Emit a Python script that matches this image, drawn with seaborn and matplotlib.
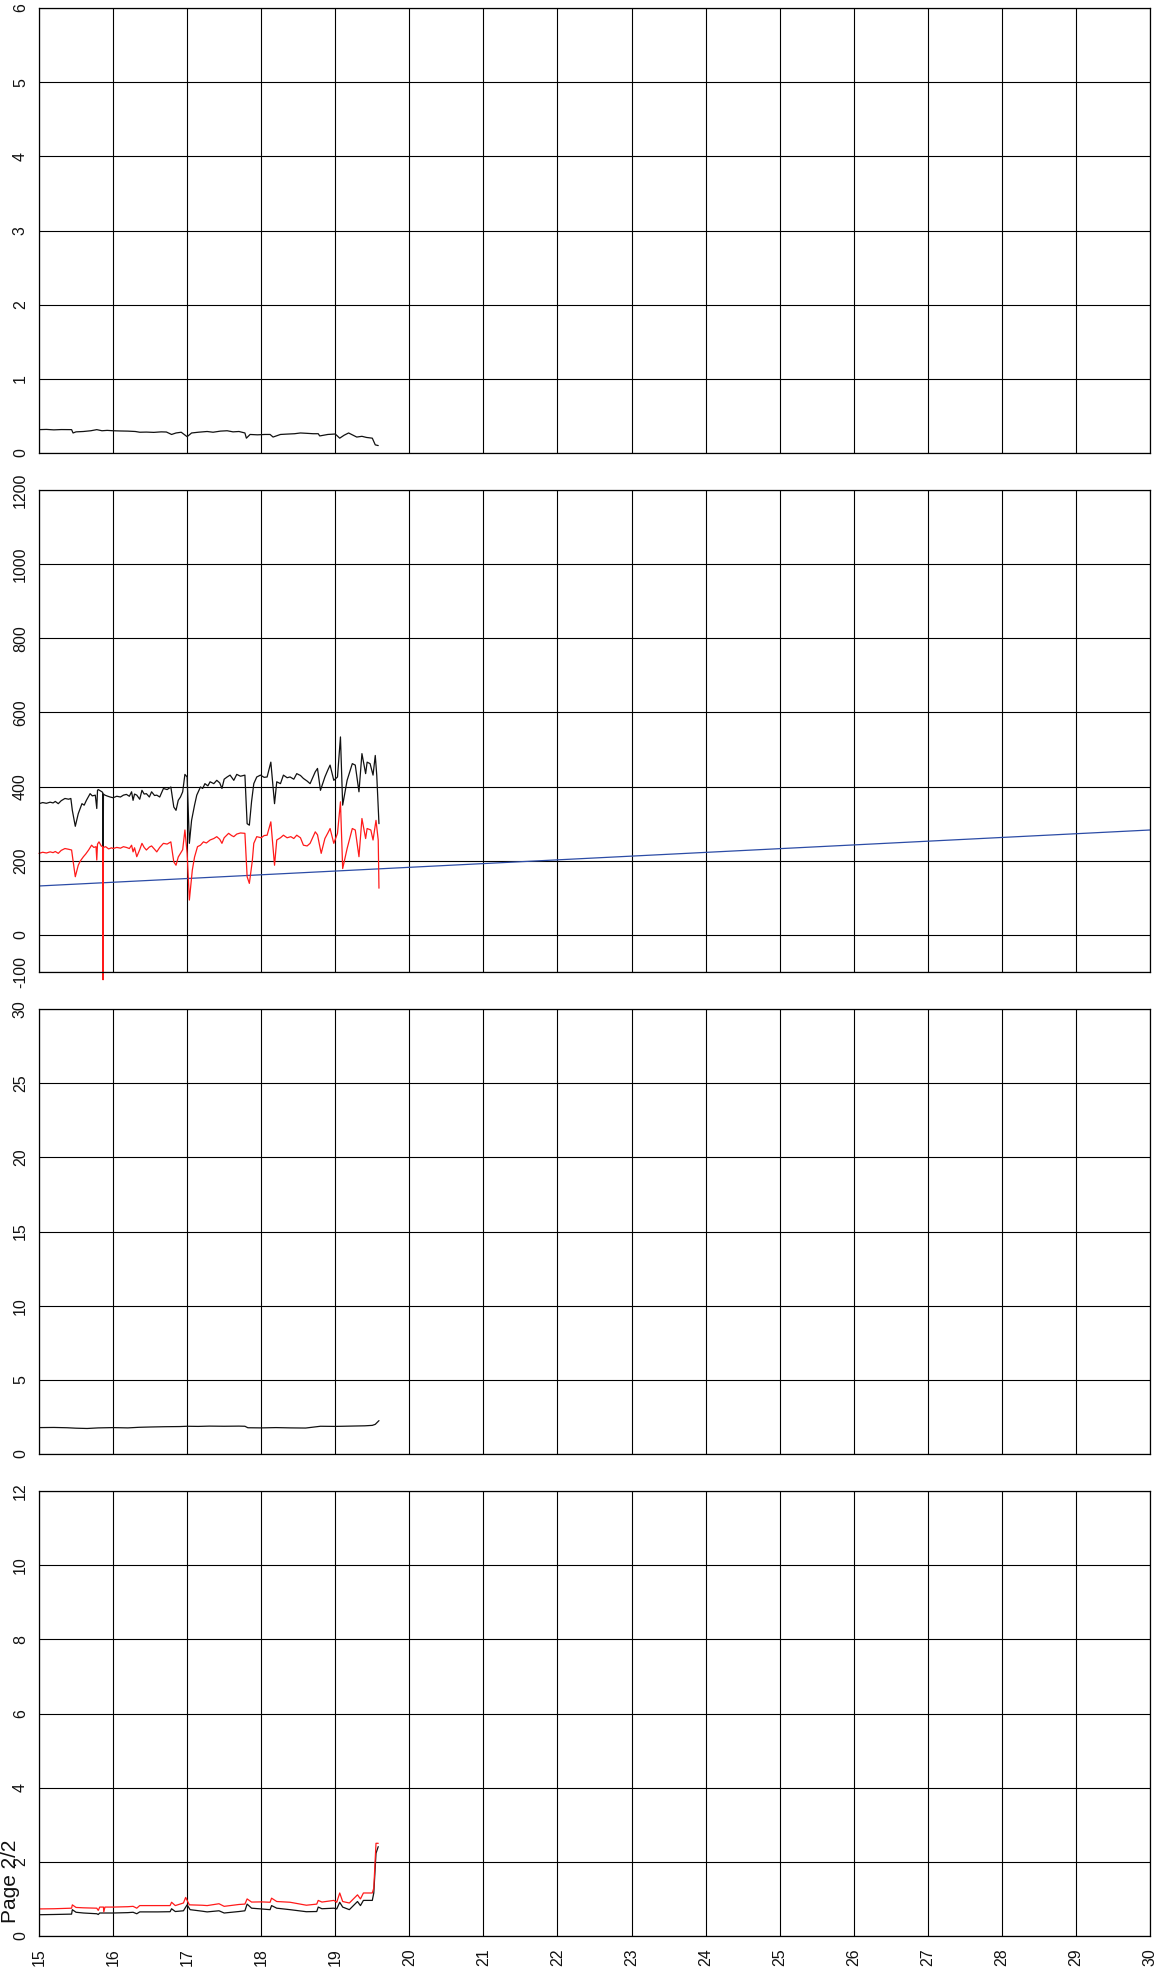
import matplotlib
matplotlib.use("Agg")
import matplotlib.pyplot as plt
import seaborn as sns
import pandas as pd

# ---------------- data ----------------
x_ticks = list(range(15, 31))

p1_x = [15.00, 15.10, 15.20, 15.30, 15.44, 15.46, 15.50, 15.60, 15.70, 15.78, 15.85, 15.92, 16.00, 16.10,
        16.20, 16.30, 16.36, 16.45, 16.55, 16.65, 16.72, 16.79, 16.85, 16.92, 17.00, 17.06, 17.15, 17.27,
        17.35, 17.45, 17.54, 17.62, 17.70, 17.78, 17.80, 17.85, 17.95, 18.05, 18.12, 18.16, 18.26, 18.35,
        18.45, 18.53, 18.62, 18.70, 18.77, 18.79, 18.90, 19.00, 19.06, 19.12, 19.18, 19.24, 19.29, 19.36,
        19.42, 19.50, 19.54, 19.58]
p1_y = [0.315, 0.318, 0.312, 0.316, 0.315, 0.27, 0.285, 0.29, 0.30, 0.315, 0.30, 0.305, 0.30, 0.297,
        0.295, 0.29, 0.28, 0.282, 0.278, 0.285, 0.283, 0.25, 0.27, 0.28, 0.22, 0.27, 0.28, 0.29,
        0.28, 0.295, 0.30, 0.285, 0.29, 0.27, 0.20, 0.25, 0.245, 0.25, 0.25, 0.215, 0.25, 0.255,
        0.26, 0.27, 0.265, 0.26, 0.26, 0.23, 0.25, 0.256, 0.20, 0.24, 0.27, 0.24, 0.215, 0.225,
        0.21, 0.20, 0.11, 0.10]
p1_yticks = [0, 1, 2, 3, 4, 5, 6]

p2_black_x = [15.00, 15.05, 15.10, 15.15, 15.19, 15.22, 15.26, 15.30, 15.35, 15.40, 15.43, 15.45, 15.49,
              15.53, 15.58, 15.61, 15.64, 15.69, 15.72, 15.76, 15.78, 15.79, 15.80, 15.85, 15.86, 15.865,
              15.87, 15.89, 15.93, 15.96, 16.00, 16.05, 16.10, 16.14, 16.18, 16.22, 16.25, 16.27, 16.29,
              16.32, 16.36, 16.39, 16.42, 16.45, 16.49, 16.52, 16.56, 16.59, 16.63, 16.68, 16.73, 16.78,
              16.82, 16.85, 16.88, 16.91, 16.94, 16.97, 17.00, 17.03, 17.06, 17.10, 17.13, 17.18, 17.21,
              17.24, 17.28, 17.31, 17.36, 17.40, 17.44, 17.47, 17.50, 17.54, 17.58, 17.63, 17.67, 17.72,
              17.78, 17.81, 17.84, 17.87, 17.90, 17.94, 17.99, 18.04, 18.08, 18.13, 18.18, 18.21, 18.26,
              18.30, 18.35, 18.39, 18.44, 18.48, 18.53, 18.57, 18.62, 18.66, 18.73, 18.76, 18.80, 18.86,
              18.90, 18.93, 18.98, 19.03, 19.07, 19.10, 19.16, 19.23, 19.27, 19.32, 19.36, 19.41, 19.43,
              19.47, 19.51, 19.54, 19.56, 19.59]
p2_black_y = [354, 357, 355, 358, 356, 360, 354, 362, 368, 366, 368, 336, 293,
              327, 354, 350, 363, 381, 375, 377, 341, 390, 392, 386, 384, 18,
              380, 377, 374, 372, 370, 374, 372, 377, 379, 374, 386, 363, 380,
              377, 366, 390, 380, 381, 372, 386, 376, 377, 372, 395, 392, 399,
              345, 336, 363, 372, 386, 433, 426, 247, 309, 350, 377, 399, 395,
              408, 402, 413, 408, 417, 410, 395, 420, 426, 431, 417, 433, 428,
              431, 300, 296, 360, 408, 426, 431, 425, 426, 466, 354, 413, 408,
              431, 424, 426, 420, 435, 430, 422, 415, 408, 440, 449, 390, 426,
              445, 458, 417, 426, 534, 350, 417, 462, 458, 386, 489, 435, 466,
              462, 431, 484, 431, 300]

p2_red_x = [15.00, 15.05, 15.10, 15.15, 15.19, 15.22, 15.26, 15.30, 15.35, 15.40, 15.44, 15.46, 15.49,
            15.53, 15.56, 15.60, 15.63, 15.67, 15.71, 15.74, 15.77, 15.78, 15.79, 15.81, 15.84, 15.86,
            15.865, 15.87, 15.90, 15.94, 15.98, 16.00, 16.05, 16.10, 16.14, 16.18, 16.22, 16.25, 16.27,
            16.29, 16.32, 16.36, 16.39, 16.42, 16.45, 16.49, 16.52, 16.56, 16.59, 16.63, 16.68, 16.73,
            16.78, 16.82, 16.85, 16.88, 16.91, 16.94, 16.97, 17.00, 17.03, 17.07, 17.10, 17.14, 17.18,
            17.22, 17.26, 17.31, 17.36, 17.40, 17.44, 17.47, 17.50, 17.56, 17.60, 17.63, 17.67, 17.72,
            17.78, 17.81, 17.84, 17.88, 17.90, 17.94, 18.00, 18.04, 18.08, 18.13, 18.18, 18.21, 18.26,
            18.30, 18.35, 18.40, 18.44, 18.48, 18.53, 18.57, 18.62, 18.66, 18.73, 18.76, 18.81, 18.86,
            18.90, 18.93, 18.98, 19.03, 19.07, 19.10, 19.16, 19.23, 19.27, 19.32, 19.36, 19.41, 19.43,
            19.48, 19.51, 19.55, 19.58, 19.59]
p2_red_y = [220, 223, 221, 224, 222, 225, 220, 228, 233, 231, 229, 200, 157,
            188, 200, 211, 218, 229, 242, 236, 238, 202, 245, 251, 240, 238,
            -121, 236, 238, 232, 235, 233, 236, 234, 238, 236, 233, 242, 224,
            235, 211, 230, 247, 236, 229, 237, 240, 231, 224, 236, 247, 245,
            251, 197, 188, 210, 220, 230, 283, 220, 94, 175, 210, 238, 242,
            251, 248, 256, 260, 265, 258, 247, 262, 274, 268, 265, 272, 275,
            274, 157, 139, 200, 247, 265, 262, 268, 269, 305, 188, 256, 262,
            269, 262, 265, 260, 269, 262, 242, 240, 247, 278, 270, 220, 260,
            275, 287, 247, 274, 359, 179, 233, 287, 283, 211, 314, 260, 287,
            283, 256, 309, 256, 126]

p2_blue_x = [15, 30]
p2_blue_y = [132, 283]
p2_yticks = [-100, 0, 200, 400, 600, 800, 1000, 1200]

p3_x = [15.00, 15.20, 15.38, 15.50, 15.65, 15.80, 16.00, 16.20, 16.35, 16.50, 16.70, 16.90, 17.00, 17.15,
        17.30, 17.50, 17.70, 17.78, 17.82, 18.00, 18.20, 18.40, 18.60, 18.80, 19.00, 19.20, 19.40, 19.50,
        19.54, 19.59]
p3_y = [1.78, 1.79, 1.77, 1.74, 1.72, 1.76, 1.78, 1.76, 1.80, 1.82, 1.84, 1.85, 1.87, 1.86,
        1.88, 1.87, 1.88, 1.87, 1.77, 1.76, 1.78, 1.76, 1.75, 1.87, 1.86, 1.88, 1.90, 1.93,
        2.00, 2.25]
p3_yticks = [0, 5, 10, 15, 20, 25, 30]

p4_black_x = [15.00, 15.20, 15.44, 15.45, 15.50, 15.60, 15.78, 15.80, 15.82, 16.00, 16.20, 16.27, 16.32,
              16.36, 16.60, 16.77, 16.79, 16.84, 16.95, 17.00, 17.04, 17.20, 17.27, 17.43, 17.50, 17.70,
              17.78, 17.81, 17.87, 18.00, 18.12, 18.14, 18.21, 18.39, 18.61, 18.75, 18.77, 18.82, 18.98,
              19.02, 19.06, 19.10, 19.19, 19.30, 19.34, 19.38, 19.50, 19.52, 19.55, 19.58]
p4_black_y = [0.574, 0.58, 0.59, 0.71, 0.64, 0.62, 0.60, 0.58, 0.62, 0.62, 0.63, 0.64, 0.60,
              0.65, 0.65, 0.655, 0.735, 0.66, 0.68, 0.84, 0.71, 0.67, 0.65, 0.68, 0.62, 0.66,
              0.68, 0.86, 0.75, 0.73, 0.71, 0.82, 0.75, 0.71, 0.655, 0.66, 0.78, 0.735, 0.75,
              0.73, 0.91, 0.78, 0.71, 0.93, 0.82, 0.96, 0.96, 1.16, 2.23, 2.41]
p4_red_x = [15.00, 15.20, 15.44, 15.45, 15.50, 15.60, 15.78, 15.80, 15.82, 15.87, 15.875, 15.89, 16.00,
            16.20, 16.27, 16.32, 16.36, 16.60, 16.77, 16.79, 16.84, 16.95, 16.98, 17.03, 17.20, 17.27,
            17.43, 17.50, 17.70, 17.78, 17.81, 17.87, 18.00, 18.12, 18.14, 18.21, 18.39, 18.61, 18.75,
            18.77, 18.82, 18.98, 19.02, 19.06, 19.10, 19.19, 19.30, 19.34, 19.38, 19.50, 19.52, 19.55,
            19.58]
p4_red_y = [0.73, 0.735, 0.75, 0.84, 0.77, 0.76, 0.75, 0.69, 0.78, 0.78, 0.65, 0.78, 0.78,
            0.79, 0.80, 0.75, 0.82, 0.82, 0.82, 0.91, 0.82, 0.89, 1.04, 0.84, 0.83, 0.82,
            0.87, 0.80, 0.85, 0.86, 1.0, 0.915, 0.92, 0.91, 1.02, 0.93, 0.91, 0.83, 0.86,
            0.96, 0.915, 0.96, 0.91, 1.16, 0.93, 0.89, 1.11, 1.0, 1.16, 1.16, 1.29, 2.50,
            2.50]
p4_yticks = [0, 2, 4, 6, 8, 10, 12]

page_label = "Page 2/2"

# ---------------- style ----------------
sns.set_style("white")
plt.rcParams["font.family"] = ["Liberation Sans", "DejaVu Sans"]

W, H = 1157, 1973
fig = plt.figure(figsize=(W / 100, H / 100), dpi=100)

left_px, right_px = 39, 1150
panels_px = [(8, 453), (490, 972), (1009, 1454), (1491, 1936)]
ylims = [(0, 6), (-100, 1200), (0, 30), (0, 12)]
yticks_all = [p1_yticks, p2_yticks, p3_yticks, p4_yticks]

GRID = "#000000"
BLACK = "#111111"
RED = "#ff1a1a"
BLUE = "#2c4ca6"
LW = 0.9
FS = 11.5

axes = []
for i, (t, b) in enumerate(panels_px):
    ax = fig.add_axes([left_px / W, 1 - b / H, (right_px - left_px) / W, (b - t) / H])
    ax.set_xlim(15, 30)
    ax.set_ylim(*ylims[i])
    ax.set_xticks(x_ticks)
    ax.set_yticks(yticks_all[i])
    ax.grid(True, color=GRID, linewidth=0.8)
    ax.set_axisbelow(True)
    for s in ax.spines.values():
        s.set_visible(True)
        s.set_color(GRID)
        s.set_linewidth(0.9)
    ax.tick_params(axis="both", length=0, colors="#111111")
    ax.tick_params(axis="y", pad=8)
    ax.tick_params(axis="x", pad=9)
    ax.set_yticklabels([str(v) for v in yticks_all[i]], rotation=90, va="center", fontsize=FS)
    if i < 3:
        ax.set_xticklabels([])
    else:
        ax.set_xticklabels([str(v) for v in x_ticks], rotation=90, ha="center", fontsize=FS)
    axes.append(ax)

def draw(ax, xs, ys, color, clip=True):
    df = pd.DataFrame({"x": xs, "y": ys})
    sns.lineplot(data=df, x="x", y="y", ax=ax, color=color, linewidth=LW,
                 sort=False, estimator=None, legend=False)
    ax.lines[-1].set_clip_on(clip)
    ax.set_xlabel("")
    ax.set_ylabel("")

draw(axes[0], p1_x, p1_y, BLACK)
draw(axes[1], p2_blue_x, p2_blue_y, BLUE)
draw(axes[1], p2_black_x, p2_black_y, BLACK)
draw(axes[1], p2_red_x, p2_red_y, RED, clip=False)
draw(axes[2], p3_x, p3_y, BLACK)
draw(axes[3], p4_black_x, p4_black_y, BLACK)
draw(axes[3], p4_red_x, p4_red_y, RED)

for ax in axes:
    ax.set_xlim(15, 30)

fig.text(15.5 / W, (H - 1923) / H, page_label, rotation=90, rotation_mode="anchor",
         ha="left", va="baseline", fontsize=15, color="#111111")

fig.savefig("out.png", dpi=100)
